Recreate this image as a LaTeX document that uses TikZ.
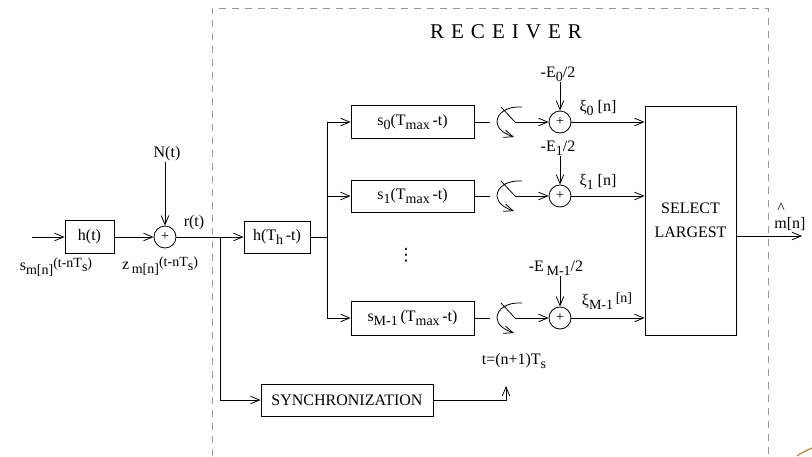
\documentclass[tikz,border=0pt]{standalone}
\usepackage{fontspec}
\setmainfont{Liberation Serif}
\newfontfamily\dvfont{DejaVu Sans}
\usetikzlibrary{arrows.meta}
\newcommand{\lo}[1]{\raisebox{-4pt}{\fontsize{14}{14}\selectfont #1}}
\newcommand{\hi}[1]{\raisebox{3pt}{\fontsize{14}{14}\selectfont #1}}
\begin{document}
\begin{tikzpicture}[x=1pt,y=-1pt,
  font=\fontsize{16}{19}\selectfont,
  line width=0.8pt,
  blk/.style={draw, rectangle, inner sep=0pt},
  sumc/.style={draw, circle, minimum size=22pt, inner sep=0pt, font=\fontsize{14}{14}\selectfont},
  arr/.style={-{Straight Barb[length=9pt,width=7.5pt,line width=0.8pt]}},
  lbl/.style={inner sep=0pt},
  rx/.style={draw=gray!80, dash pattern=on 7pt off 6pt, line width=0.9pt},
  sw/.pic={
    \draw (-14,-15) -- (0,0);
    \draw[arr] (7,-15) .. controls (-8,-16) and (-18,-9) .. (-18,0)
               .. controls (-18,7) and (-10,12) .. (-1,15);
  }]
\useasboundingbox (0,0) rectangle (812,456);

% receiver dashed frame
\coordinate (rtl) at (212,8);
\coordinate (rtr) at (768,8);
\coordinate (rbl) at (212,456);
\coordinate (rbr) at (768,456);
\draw[rx] (rbl) -- (rtl) -- (rtr) -- (rbr);
\node[lbl, font=\fontsize{21}{21}\selectfont] (rec) at (506,32) {R\,\,E\,\,C\,\,E\,\,I\,\,V\,\,E\,\,R};

% transmitter side
\coordinate (in) at (32,237);
\node[blk, minimum width=49pt, minimum height=33pt] (h) at (89.5,237) {h(t)};
\draw[arr] (in) -- (h);
\node[sumc] (sum) at (165,237) {+};
\draw[arr] (h) -- (sum);
\node[lbl] (N) at (167,154) {N(t)};
\draw[arr] (N.south -| sum) -- (sum);
\node[lbl] (r) at (194,223) {r(t)};
\node[lbl] (sl) at (56,267) {s\lo{m[n]}\hi{(t-nT\lo{s})}};
\node[lbl] (zl) at (160,266) {z\,\lo{m[n]}\hi{(t-nT\lo{s})}};

% receiver front end
\node[blk, minimum width=66pt, minimum height=32pt] (hth) at (277,237) {h(T\lo{h}\,-t)};
\coordinate (j) at (220,237);
\draw (sum) -- (j);
\draw[arr] (j) -- (hth);
\node[blk, minimum width=172pt, minimum height=32pt] (sync) at (347,400) {SYNCHRONIZATION};
\draw[arr] (j) |- (sync);
\coordinate (tp) at (506,386);
\draw[arr] (sync.east) -| (tp);
\node[lbl] (tl) at (514,361) {t=(n+1)T\lo{s}};

% bus
\coordinate (b) at (327,237);
\draw (hth) -- (b);

% branches
\node[blk, minimum width=123pt, minimum height=33pt] (s0) at (412.5,122) {s\lo{0}(T\lo{max}\,-t)};
\node[blk, minimum width=123pt, minimum height=32pt] (s1) at (412.5,196) {s\lo{1}(T\lo{max}\,-t)};
\node[blk, minimum width=123pt, minimum height=34pt] (sM) at (412.5,318) {s\lo{M-1}\,(T\lo{max}\,-t)};
\draw[arr] (b) |- (s0);
\draw[arr] (b) |- (s1);
\draw[arr] (b) |- (sM);
\node[lbl, font=\dvfont\fontsize{17}{17}\selectfont] (dots) at (406,255) {⋮};

\node[blk, minimum width=91pt, minimum height=229pt, align=center, font=\fontsize{16}{24}\selectfont] (sel) at (690.5,220.5) {SELECT\\LARGEST};

% branch 0
\coordinate (o0) at (490,122);
\draw (s0) -- (o0);
\pic at (515,122) {sw};
\coordinate (p0) at (515,122);
\node[sumc] (c0) at (560,122) {+};
\draw[arr] (p0) -- (c0);
\node[lbl] (e0) at (558,74) {-E\lo{0}/2};
\draw[arr] (e0.south -| c0) -- (c0);
\node[lbl] (x0) at (598,108) {ξ\lo{0} [n]};
\draw[arr] (c0) -- (c0 -| sel.west);

% branch 1
\coordinate (o1) at (490,196);
\draw (s1) -- (o1);
\pic at (515,196) {sw};
\coordinate (p1) at (515,196);
\node[sumc] (c1) at (560,196) {+};
\draw[arr] (p1) -- (c1);
\node[lbl] (e1) at (558,148) {-E\lo{1}/2};
\draw[arr] (e1.south -| c1) -- (c1);
\node[lbl] (x1) at (598,182) {ξ\lo{1} [n]};
\draw[arr] (c1) -- (c1 -| sel.west);

% branch M-1
\coordinate (oM) at (490,318);
\draw (sM) -- (oM);
\pic at (515,318) {sw};
\coordinate (pM) at (515,318);
\node[sumc] (cM) at (560,318) {+};
\draw[arr] (pM) -- (cM);
\node[lbl] (eM) at (556,268) {-E\,\lo{M-1}/2};
\draw[arr] (eM.south -| cM) -- (cM);
\node[lbl] (xM) at (607,301) {ξ\lo{M-1}\,\hi{[n]}};
\draw[arr] (cM) -- (cM -| sel.west);

% output
\coordinate (out) at (802,236);
\draw[arr] (sel.east |- out) -- (out);
\node[lbl, align=left, font=\fontsize{16}{15}\selectfont] (mh) at (790,217) {\hspace{3pt}\textasciicircum\\m[n]};

% scan mark
\coordinate (sa) at (797,456);
\coordinate (sb) at (812,448);
\draw[color={rgb,255:red,190;green,130;blue,50}, line width=1.2pt] (sa) .. controls (803,452) .. (sb);
\end{tikzpicture}
\end{document}
